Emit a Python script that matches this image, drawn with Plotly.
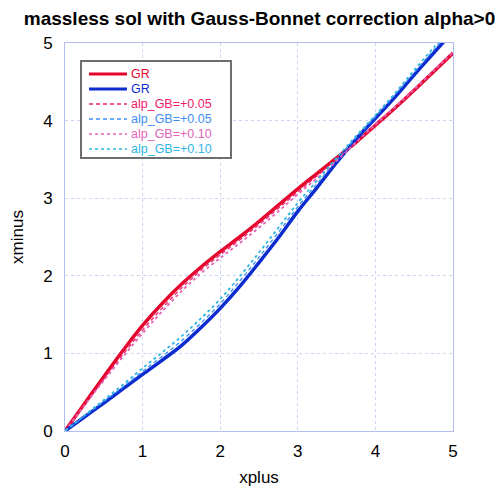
import plotly.graph_objects as go

xplus = [0, 0.25, 0.5, 0.75, 1.0, 1.25, 1.5, 1.75, 2.0, 2.25, 2.5, 2.75, 3.0,
         3.25, 3.5, 3.75, 4.0, 4.25, 4.5, 4.75, 5.0]

gr_red = [0, 0.35, 0.70, 1.04, 1.36, 1.64, 1.89, 2.11, 2.31, 2.50, 2.70, 2.91, 3.12,
          3.32, 3.52, 3.72, 3.94, 4.16, 4.39, 4.63, 4.87]
gr_blue = [0, 0.18, 0.36, 0.545, 0.73, 0.91, 1.10, 1.33, 1.58, 1.86, 2.17, 2.49, 2.83,
           3.14, 3.46, 3.76, 4.03, 4.30, 4.59, 4.87, 5.15]
gb05_red = [0, 0.34, 0.67, 0.99, 1.30, 1.58, 1.84, 2.07, 2.27, 2.46, 2.66, 2.87, 3.08,
            3.29, 3.50, 3.72, 3.95, 4.17, 4.40, 4.64, 4.88]
gb05_blue = [0, 0.19, 0.38, 0.57, 0.77, 0.96, 1.16, 1.39, 1.64, 1.93, 2.24, 2.56, 2.89,
             3.19, 3.49, 3.78, 4.05, 4.33, 4.62, 4.91, 5.19]
gb10_red = [0, 0.33, 0.65, 0.96, 1.26, 1.54, 1.80, 2.03, 2.23, 2.42, 2.62, 2.83, 3.05,
            3.26, 3.48, 3.72, 3.95, 4.17, 4.40, 4.64, 4.88]
gb10_blue = [0, 0.20, 0.40, 0.60, 0.81, 1.01, 1.22, 1.45, 1.70, 1.99, 2.30, 2.62, 2.94,
             3.23, 3.52, 3.80, 4.07, 4.35, 4.65, 4.94, 5.22]

legend_names = ["GR", "GR", "alp_GB=+0.05", "alp_GB=+0.05", "alp_GB=+0.10", "alp_GB=+0.10"]
series_values = [gr_red, gr_blue, gb05_red, gb05_blue, gb10_red, gb10_blue]
colors = ["#e5062d", "#0c2cd0", "#f0206e", "#3d8ef2", "#e264b6", "#2fb6e2"]
dashes = ["solid", "solid", "4px,3px", "4px,3px", "dot", "dot"]
widths = [3.5, 3.5, 1.3, 1.3, 1.8, 1.8]

fig = go.Figure()
for name, ys, col, dash, w in zip(legend_names, series_values, colors, dashes, widths):
    fig.add_trace(go.Scatter(
        x=xplus, y=ys, mode="lines", line_shape="spline", name=name,
        showlegend=False, line=dict(color=col, dash=dash, width=w)))

# legend box drawn in paper coordinates (plot area is 388 px square)
P = 388.0
def px_x(X):
    return (X - 65) / P
def px_y(Y):
    return (431 - Y) / P

shapes = [dict(type="rect", xref="paper", yref="paper",
               x0=px_x(81), x1=px_x(231), y0=px_y(158), y1=px_y(61),
               line=dict(color="#6e6e6e", width=2), fillcolor="white", layer="above")]
annotations = []
row0, step = 74.0, 15.0
for i, (name, col, dash) in enumerate(zip(legend_names, colors, dashes)):
    yy = px_y(row0 + i * step)
    lw = 3 if dash == "solid" else 1.3
    shapes.append(dict(type="line", xref="paper", yref="paper",
                       x0=px_x(89), x1=px_x(127), y0=yy, y1=yy,
                       line=dict(color=col, width=lw, dash=dash), layer="above"))
    annotations.append(dict(xref="paper", yref="paper", x=px_x(129), y=yy,
                            xanchor="left", yanchor="middle", showarrow=False,
                            text=name, font=dict(size=12.5, color=col)))

axis_common = dict(
    range=[0, 5], dtick=1, showline=True, linecolor="#b3bdf0", linewidth=1,
    mirror=True, showgrid=True, gridcolor="#cdd4f6", griddash="dot", gridwidth=1,
    zeroline=False, ticks="", tickfont=dict(size=17, color="black"), automargin=False,
)

fig.update_layout(
    width=503, height=489,
    margin=dict(l=57, r=58, t=35, b=66),
    paper_bgcolor="white", plot_bgcolor="white",
    font=dict(family="Liberation Sans, Arial, sans-serif", color="black"),
    title=dict(text="<b>massless sol with Gauss-Bonnet correction alpha>0</b>",
               x=0.5, xanchor="center", y=0.978, yanchor="middle",
               font=dict(size=19, color="black")),
    xaxis=dict(title=dict(text="xplus", font=dict(size=17), standoff=10),
               ticklabelstandoff=5, **axis_common),
    yaxis=dict(title=dict(text="xminus", font=dict(size=17), standoff=20),
               ticklabelstandoff=8, **axis_common),
    shapes=shapes, annotations=annotations,
    showlegend=False,
)

fig.write_html("out.html")
